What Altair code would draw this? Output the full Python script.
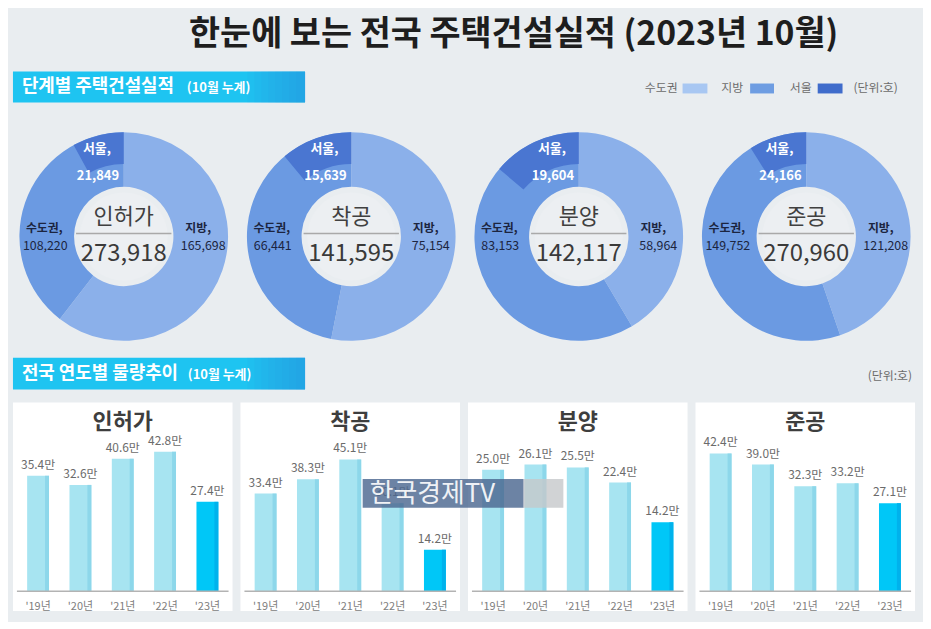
import altair as alt
import pandas as pd

FONT = "Noto Sans CJK KR"
BG = "#E9EDF0"

# ---- data ----
stages = ["인허가", "착공", "분양", "준공"]
totals = [273918, 141595, 142117, 270960]
jibang = [165698, 75154, 58964, 121208]
sudo = [108220, 66441, 83153, 149752]
seoul = [21849, 15639, 19604, 24166]

years = ["'19년", "'20년", "'21년", "'22년", "'23년"]
permits = [35.4, 32.6, 40.6, 42.8, 27.4]
starts = [33.4, 38.3, 45.1, 30.1, 14.2]
sales = [25.0, 26.1, 25.5, 22.4, 14.2]
completions = [42.4, 39.0, 32.3, 33.2, 27.1]
trend = [permits, starts, sales, completions]

y_lo = [-6.1, -6.8, -4.1, -6.1]
y_hi = [57.9, 64.6, 38.9, 58.1]

seg_names = ["지방", "수도권", "서울"]
seg_colors = ["#8BB0EA", "#6B9AE2", "#4A76D1"]

one = pd.DataFrame({"k": [0]})


def txt(x, y, s, size, color, weight="normal", align="left", opacity=1):
    return alt.Chart(one).mark_text(
        text=s, fontSize=size, color=color, fontWeight=weight, align=align,
        baseline="middle", font=FONT, opacity=opacity
    ).encode(x=alt.value(x), y=alt.value(y))


def box(x1, x2, y1, y2, fill, opacity=1):
    return alt.Chart(one).mark_rect(color=fill, opacity=opacity).encode(
        x=alt.value(x1), x2=alt.value(x2), y=alt.value(y1), y2=alt.value(y2)
    )


def header_box(y1, y2):
    parts = [box(0, 294, y1, y2, "#1EC4F1")]
    for k in range(8):
        parts.append(box(236 + k * 7, 294, y1, y2, "#2E8EE0", 0.09))
    return parts


# ---- row A: title, section header, legend ----
rowA = alt.layer(
    txt(504, 25, "한눈에 보는 전국 주택건설실적 (2023년 10월)", 34, "#1E1E1E", "bold", "center"),
    *header_box(62, 93),
    txt(9, 78, "단계별 주택건설실적", 18, "white", "bold"),
    txt(175, 79, "(10월 누계)", 13, "white", "bold"),
    txt(669, 79, "수도권", 12, "#6B6B6B", align="right"),
    box(674, 699, 74, 84, "#A8C7F2"),
    txt(735, 79, "지방", 12, "#6B6B6B", align="right"),
    box(742, 766, 74, 84, "#6E9DE2"),
    txt(804, 79, "서울", 12, "#6B6B6B", align="right"),
    box(810, 835, 74, 84, "#3F6CCB"),
    txt(846, 79, "(단위:호)", 12, "#6B6B6B"),
).properties(width=908, height=104)

# ---- row B: donuts ----
CX, CY = 111.5, 124
cscale = alt.Scale(domain=seg_names, range=seg_colors)


def donut(i):
    seg = pd.DataFrame({"seg": ["지방", "수도권"], "v": [jibang[i], sudo[i]], "ord": [0, 1]})
    seo = pd.DataFrame({"seg": ["지방", "수도권", "서울"],
                        "v": [jibang[i], sudo[i] - seoul[i], seoul[i]], "ord": [0, 1, 2]})
    info = pd.DataFrame({"stage": [stages[i]], "total": [totals[i]], "jibang": [jibang[i]],
                         "sudo": [sudo[i]], "seoul": [seoul[i]]})
    pos = dict(x=alt.value(CX), y=alt.value(CY))
    ring = alt.Chart(seg).mark_arc(innerRadius=50, outerRadius=105).encode(
        theta=alt.Theta("v:Q", stack="normalize"),
        order=alt.Order("ord:Q"),
        color=alt.Color("seg:N", scale=cscale, legend=None), **pos)
    sring = alt.Chart(seo).mark_arc(innerRadius=73, outerRadius=105).encode(
        theta=alt.Theta("v:Q", stack="normalize"),
        order=alt.Order("ord:Q"),
        color=alt.Color("seg:N", scale=cscale, legend=None),
        opacity=alt.condition(alt.datum.seg == "서울", alt.value(1), alt.value(0)),
        **pos)
    hole = alt.Chart(one).mark_circle(size=7854, color="#ECEFF2", opacity=1).encode(**pos)
    line = alt.Chart(one).mark_rule(color="#A9A9A9", strokeWidth=1.5).encode(
        x=alt.value(CX - 48), x2=alt.value(CX + 48), y=alt.value(CY - 3))

    def t(dx, dy, size, color, weight, text=None, field=None, fmt=None):
        kw = {"text": text} if text else {}
        m = alt.Chart(info).mark_text(fontSize=size, color=color, fontWeight=weight,
                                      font=FONT, align="center", baseline="middle", **kw)
        enc = dict(x=alt.value(CX + dx), y=alt.value(CY + dy))
        if field:
            enc["text"] = alt.Text(field, format=fmt) if fmt else alt.Text(field)
        return m.encode(**enc)

    return alt.layer(
        ring, sring, hole, line,
        t(0, -20, 22, "#404040", "normal", field="stage:N"),
        t(0, 18, 24, "#3A3A3A", "normal", field="total:Q", fmt=","),
        t(-27, -88, 13, "white", "bold", text="서울,"),
        t(-26, -61, 13, "white", "bold", field="seoul:Q", fmt=","),
        t(-80, -9, 12, "#1C2540", "bold", text="수도권,"),
        t(-79, 10, 12.5, "#1C2540", "normal", field="sudo:Q", fmt=","),
        t(75, -9, 12, "#1C2540", "bold", text="지방,"),
        t(80, 10, 12.5, "#1C2540", "normal", field="jibang:Q", fmt=","),
    ).properties(width=228, height=238)


rowB = alt.hconcat(*[donut(i) for i in range(4)], spacing=1, bounds="flush")

# ---- row C: second section header ----
rowC = alt.layer(
    *header_box(8, 40),
    txt(9, 24, "전국 연도별 물량추이", 18, "white", "bold"),
    txt(176, 25, "(10월 누계)", 13, "white", "bold"),
    txt(905, 26, "(단위:호)", 12, "#6B6B6B", align="right"),
).properties(width=908, height=53)


# ---- row D: bar panels ----
def panel(i):
    vals = trend[i]
    df = pd.DataFrame({"year": years, "v": vals, "label": [f"{v:.1f}만" for v in vals]})
    xs = alt.X("year:O", axis=None,
               scale=alt.Scale(paddingInner=0.483, paddingOuter=0.335))
    ys = alt.Y("v:Q", axis=None,
               scale=alt.Scale(domain=[y_lo[i], y_hi[i]], nice=False, zero=False))
    latest = alt.datum.year == years[-1]
    base = alt.Chart(df)
    bg = box(0, 221, 0, 210, "white")
    bars = base.mark_bar().encode(
        x=xs, y=ys,
        color=alt.condition(latest, alt.value("#00C7F7"), alt.value("#A7E4F1")))
    edge = base.mark_bar(size=4, xOffset=9).encode(
        x=xs, y=ys,
        color=alt.condition(latest, alt.value("#00B2EC"), alt.value("#8DD7EA")))
    labels = base.mark_text(dy=-11, fontSize=12, color="#6B6B6B", font=FONT,
                            baseline="middle").encode(x=xs, y=ys, text="label:N")
    xl = base.mark_text(fontSize=11, color="#808080", font=FONT, baseline="middle").encode(
        x=xs, y=alt.value(206), text="year:N")
    rule = alt.Chart(one).mark_rule(color="#B3B3B3", strokeWidth=1.5).encode(
        x=alt.value(4), x2=alt.value(217), y=alt.value(190))
    title = txt(110.5, 20, stages[i], 22, "#3E3E3E", "bold", "center")
    layers = [bg, bars, edge, rule, labels, xl, title]
    if i == 2:
        layers += [
            box(-106, 56, 77, 106, "#4C6890", opacity=0.82),
            box(56, 96, 77, 106, "#C6C8CB", opacity=0.8),
            txt(-99, 92, "한국경제TV", 26, "white", "normal", opacity=0.9),
        ]
    return alt.layer(*layers).properties(width=221, height=210)


rowD = alt.hconcat(*[panel(i) for i in range(4)], spacing=8, bounds="flush")

chart = alt.vconcat(rowA, rowB, rowC, rowD, spacing=0).properties(
    padding={"left": 5, "right": 1, "top": 0, "bottom": 8},
    background=BG,
).configure_view(stroke=None)

chart.save("out.html", embed_options={"renderer": "svg", "actions": False})
